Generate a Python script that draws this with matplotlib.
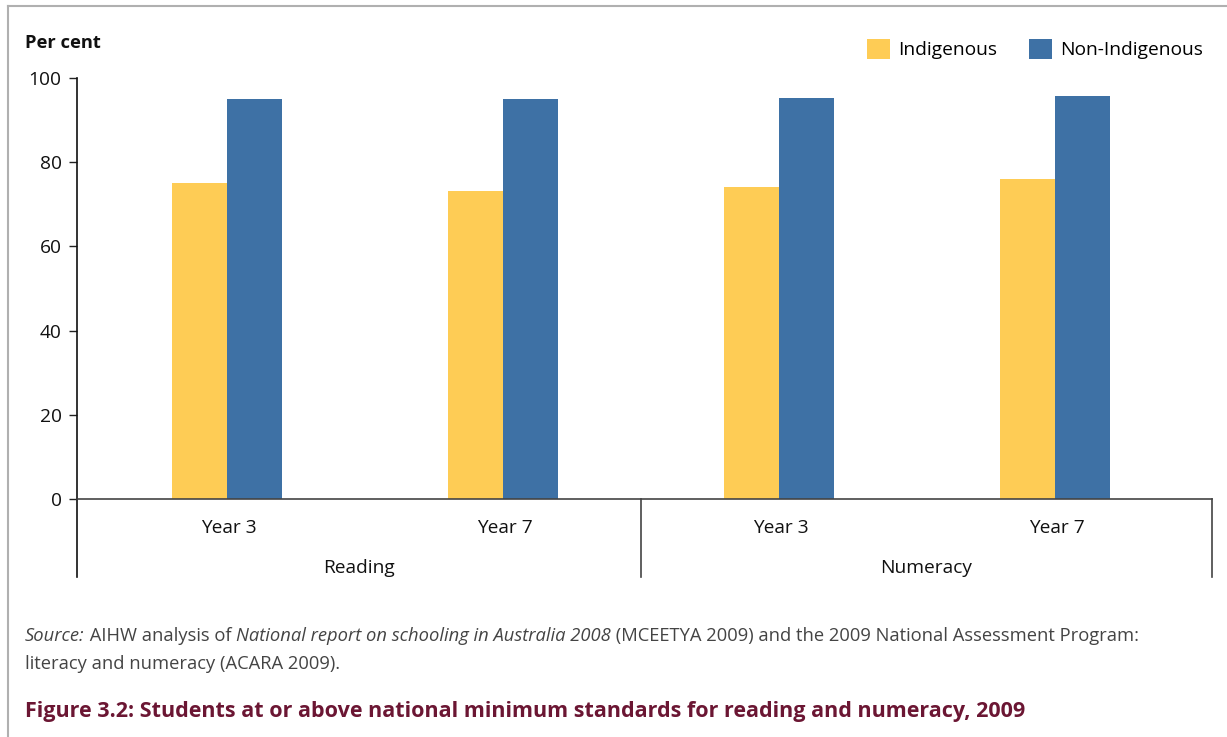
import matplotlib
matplotlib.use("Agg")
import matplotlib.pyplot as plt
from matplotlib.patches import Patch
from matplotlib.lines import Line2D
import numpy as np

plt.rcParams['font.family'] = ['Open Sans', 'DejaVu Sans']

groups = ["Reading", "Numeracy"]
years = ["Year 3", "Year 7", "Year 3", "Year 7"]
indigenous = [75.0, 73.2, 74.2, 76.0]
non_indigenous = [94.9, 95.1, 95.3, 95.7]
series_names = ["Indigenous", "Non-Indigenous"]
yticks = [0, 20, 40, 60, 80, 100]

c_ind = "#FECC55"
c_non = "#3E71A5"
W, H = 1227, 737

fig = plt.figure(figsize=(W / 100, H / 100), dpi=100)
ax = fig.add_axes([77 / W, (H - 499) / H, 1135 / W, 421 / H])

x = np.arange(len(years))
bw = 0.2
ax.bar(x - bw / 2, indigenous, bw, color=c_ind, label=series_names[0])
ax.bar(x + bw / 2, non_indigenous, bw, color=c_non, label=series_names[1])

ax.set_xlim(-0.543, 3.569)
ax.set_ylim(0, 100)
ax.set_yticks(yticks)
ax.set_yticklabels([str(v) for v in yticks], fontsize=13.8, color="#111111")
ax.tick_params(axis='y', length=6, width=1, pad=5, color="#222222")
ax.set_xticks([])
for s in ["top", "right"]:
    ax.spines[s].set_visible(False)
ax.spines["left"].set_color("#111111")
ax.spines["left"].set_linewidth(1.2)
ax.spines["bottom"].set_color("#444444")
ax.spines["bottom"].set_linewidth(1.2)

# extended vertical separators below the axis
ylow = -(577 - 499) / 4.21
for xv, col in [(-0.543, "#111111"), (1.5, "#444444"), (3.569, "#444444")]:
    ax.add_line(Line2D([xv, xv], [0, ylow], color=col, lw=1.2, clip_on=False))

for xi, lab in zip(x, years):
    ax.text(xi + 0.007, -6.9, lab, ha="center", va="center", fontsize=13.8, color="#111111")
group_centers = [(-0.543 + 1.5) / 2, (1.5 + 3.569) / 2]
for gc, g in zip(group_centers, groups):
    ax.text(gc, -16.4, g, ha="center", va="center", fontsize=13.8, color="#111111")

fig.text(25 / W, 1 - 43 / H, "Per cent", fontsize=13.2, fontweight="bold", va="center", color="#111111")

handles = [Patch(facecolor=c_ind, label=series_names[0]), Patch(facecolor=c_non, label=series_names[1])]
fig.legend(handles=handles, loc="center right", bbox_to_anchor=(1203 / W, 1 - 49 / H), ncol=2,
           frameon=False, fontsize=13.8, handlelength=1.2, handleheight=1.2, handletextpad=0.4,
           columnspacing=1.7, borderpad=0, borderaxespad=0)

# outer frame (left and top edges only)
fig.add_artist(Line2D([8 / W, 8 / W], [0, 1 - 6 / H], transform=fig.transFigure, color="#b0b0b0", lw=1.5))
fig.add_artist(Line2D([8 / W, 1], [1 - 6 / H, 1 - 6 / H], transform=fig.transFigure, color="#b0b0b0", lw=1.5))

renderer = fig.canvas.get_renderer()


def runs(x0, y0, parts, **kw):
    xx = x0
    for s, style in parts:
        t = fig.text(xx, y0, s, style=style, va="center", **kw)
        bb = t.get_window_extent(renderer)
        xx += bb.width / W


src_kw = dict(fontsize=13.2, color="#444444")
runs(25 / W, 1 - 636 / H, [("Source:", "italic"), (" AIHW analysis of ", "normal"),
                          ("National report on schooling in Australia 2008", "italic"),
                          (" (MCEETYA 2009) and the 2009 National Assessment Program:", "normal")], **src_kw)
fig.text(25 / W, 1 - 664 / H, "literacy and numeracy (ACARA 2009).", va="center", **src_kw)

fig.text(25 / W, 1 - 712 / H, "Figure 3.2: Students at or above national minimum standards for reading and numeracy, 2009",
         fontsize=15.45, fontweight="bold", color="#6B1633", va="center")

fig.savefig("out.png", dpi=100)
